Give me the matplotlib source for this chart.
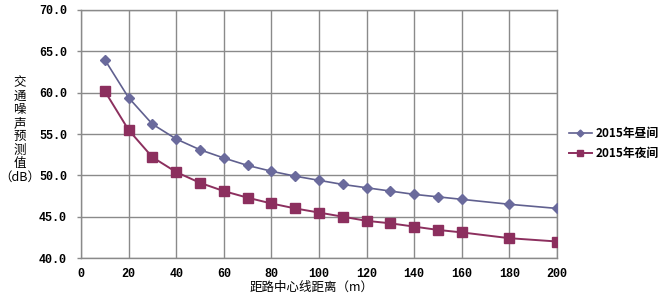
import matplotlib
matplotlib.use("Agg")
import matplotlib.pyplot as plt
from matplotlib.lines import Line2D

plt.rcParams['font.family'] = ['Noto Sans CJK SC', 'DejaVu Sans']

distance = [10, 20, 30, 40, 50, 60, 70, 80, 90, 100, 110, 120, 130, 140, 150, 160, 180, 200]
day_2015 = [64.0, 59.4, 56.2, 54.4, 53.1, 52.1, 51.2, 50.5, 49.9, 49.4, 48.9, 48.5, 48.1, 47.7, 47.4, 47.1, 46.5, 46.0]
night_2015 = [60.2, 55.5, 52.2, 50.4, 49.1, 48.1, 47.3, 46.6, 46.0, 45.5, 45.0, 44.5, 44.2, 43.8, 43.4, 43.1, 42.4, 42.0]
series_names = ["2015年昼间", "2015年夜间"]
x_ticks = [0, 20, 40, 60, 80, 100, 120, 140, 160, 180, 200]
y_ticks = [40.0, 45.0, 50.0, 55.0, 60.0, 65.0, 70.0]
x_label = "距路中心线距离（m）"
y_label = "交\n通\n噪\n声\n预\n测\n值\n（dB）"

day_color = "#60608f"
night_color = "#8c2f5e"

fig = plt.figure(figsize=(6.58, 2.99), dpi=100)
ax = fig.add_axes([0.123, 0.137, 0.8465 - 0.123, 0.9666 - 0.137])

ax.plot(distance, day_2015, color=day_color, lw=1.2, marker='D', ms=5,
        mfc="#6a6a9c", mec="#6a6a9c", label=series_names[0], zorder=3)
ax.plot(distance, night_2015, color=night_color, lw=1.4, marker='s', ms=6.5,
        mfc=night_color, mec=night_color, label=series_names[1], zorder=3)

ax.set_xlim(0, 200)
ax.set_ylim(40, 70)
ax.set_xticks(x_ticks)
ax.set_yticks(y_ticks)
ax.set_yticklabels([f"{v:.1f}" for v in y_ticks])
ax.grid(True, color="#8a8a8a", lw=1.0)
ax.set_axisbelow(True)
for s in ax.spines.values():
    s.set_color("#8a8a8a")
    s.set_linewidth(1.0)

for lab in ax.get_xticklabels() + ax.get_yticklabels():
    lab.set_fontfamily(['Liberation Mono', 'DejaVu Sans'])
    lab.set_fontweight('bold')
    lab.set_fontsize(8.5)
ax.tick_params(axis='y', length=3, width=1, color="#8a8a8a", pad=7)
ax.tick_params(axis='x', length=0, pad=7)

fig.text(0.474, 0.04, x_label, ha='center', va='center', fontsize=9)
fig.text(0.03, 0.565, y_label, ha='center', va='center', fontsize=9, linespacing=1.05)

handles = [Line2D([0], [0], color=day_color, lw=1.2, marker='D', ms=3.5, mfc="#6a6a9c", mec="#6a6a9c"),
           Line2D([0], [0], color=night_color, lw=1.4, marker='s', ms=4.5, mfc=night_color, mec=night_color)]
leg = fig.legend(handles, series_names, loc='center left', bbox_to_anchor=(0.848, 0.52),
                 frameon=False, handlelength=2.0, handletextpad=0.3, labelspacing=0.6,
                 prop={'size': 8.5, 'weight': 'bold'})

fig.savefig("out.png", dpi=100)
